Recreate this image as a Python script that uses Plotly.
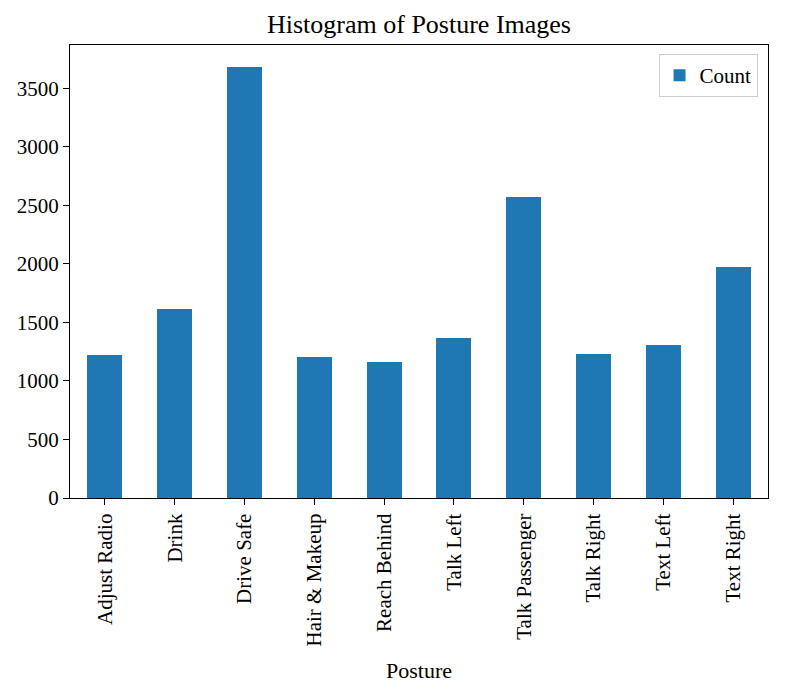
import plotly.graph_objects as go

postures = ["Adjust Radio", "Drink", "Drive Safe", "Hair & Makeup", "Reach Behind",
            "Talk Left", "Talk Passenger", "Talk Right", "Text Left", "Text Right"]
counts = [1220, 1613, 3686, 1206, 1160, 1363, 2571, 1226, 1303, 1975]
y_ticks = [0, 500, 1000, 1500, 2000, 2500, 3000, 3500]

FONT = "Liberation Serif"

fig = go.Figure()
fig.add_trace(go.Bar(
    x=list(range(len(postures))), y=counts, name="Count",
    marker=dict(color="#1f77b4", line=dict(width=0)), width=0.5,
))

fig.update_layout(
    width=791, height=697,
    margin=dict(l=70, r=23, t=45, b=199),
    paper_bgcolor="white", plot_bgcolor="white",
    font=dict(family=FONT, size=21, color="black"),
    title=dict(text="Histogram of Posture Images", x=0.5, xref="paper", xanchor="center",
               y=1 - 24 / 697, yanchor="middle", font=dict(size=26, family=FONT)),
    showlegend=True,
    legend=dict(x=0.985, y=0.98, xanchor="right", yanchor="top",
                bordercolor="#cccccc", borderwidth=1, bgcolor="rgba(255,255,255,0.8)",
                font=dict(size=21, family=FONT)),
    bargap=0,
)
fig.update_xaxes(
    range=[-0.5, len(postures) - 0.5],
    tickmode="array", tickvals=list(range(len(postures))), ticktext=postures,
    tickangle=-90, ticks="outside", ticklen=6, tickcolor="black", tickwidth=1.2,
    showline=True, linecolor="black", linewidth=1.3, mirror=True,
    showgrid=False, zeroline=False,
    title=dict(text="Posture", font=dict(size=22, family=FONT), standoff=17),
    tickfont=dict(size=21, family=FONT),
)
fig.update_yaxes(
    range=[0, 3870],
    tickmode="array", tickvals=y_ticks, ticktext=[str(v) for v in y_ticks],
    ticks="outside", ticklen=6, tickcolor="black", tickwidth=1.2,
    showline=True, linecolor="black", linewidth=1.3, mirror=True,
    showgrid=False, zeroline=False,
    tickfont=dict(size=21, family=FONT),
)

fig.write_html("out.html")
